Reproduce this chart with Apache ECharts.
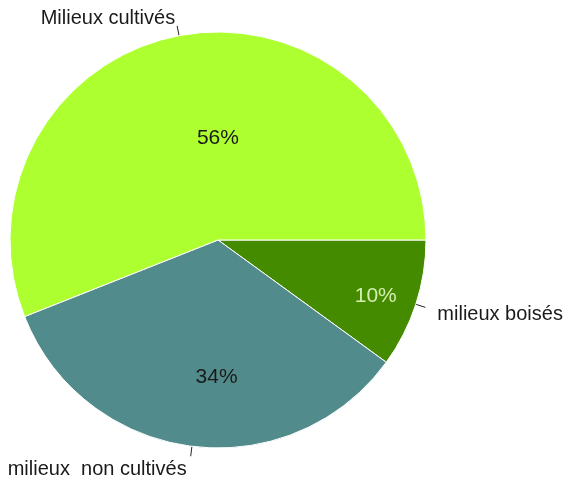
<!DOCTYPE html>
<html><head><meta charset="utf-8">
<script src="https://cdn.jsdelivr.net/npm/echarts@6/dist/echarts.min.js"></script>
<style>html,body{margin:0;padding:0;background:#fff}#c{width:567px;height:484px}</style>
</head><body><div id="c"></div>
<script>
const categories = ['milieux boisés', 'milieux  non cultivés', 'Milieux cultivés'];
const values = [10, 34, 56];
const percentLabels = ['10%', '34%', '56%'];
const colors = ['#458B00', '#528B8B', '#ADFF2F'];
const innerLabelColors = ['#d4efb0', '#1a1a1a', '#1a1a1a'];
const innerOffsets = [[56, 23], [12, 31], [20, 3]];
const outerShifts = [[10, 7], [-2, 13], [0, -7]];

const chart = echarts.init(document.getElementById('c'), null, {renderer: 'canvas'});
const font = 'Liberation Sans, Arial, sans-serif';
chart.setOption({
  animation: false,
  series: [
    {
      type: 'pie',
      center: [218, 240],
      radius: [0, 208],
      startAngle: 0,
      clockwise: true,
      silent: true,
      itemStyle: {borderColor: '#ffffff', borderWidth: 1},
      label: {show: true, position: 'outside', color: '#1a1a1a', fontFamily: font, fontSize: 20,
              distanceToLabelLine: 2, overflow: 'none', width: 300},
      labelLine: {show: true, length: 10, length2: 0, lineStyle: {color: '#222', width: 1}},
      labelLayout: function (p) {
        const s = outerShifts[p.dataIndex];
        return {dx: s[0], dy: s[1]};
      },
      data: categories.map((c, i) => ({name: c, value: values[i], itemStyle: {color: colors[i]}}))
    },
    {
      type: 'pie',
      center: [218, 240],
      radius: [0, 208],
      startAngle: 0,
      clockwise: true,
      silent: true,
      itemStyle: {color: 'rgba(0,0,0,0)'},
      label: {show: true, position: 'inside', fontFamily: font, fontSize: 21},
      labelLine: {show: false},
      data: categories.map((c, i) => ({name: c, value: values[i],
        label: {formatter: percentLabels[i], color: innerLabelColors[i], offset: innerOffsets[i]}}))
    }
  ]
});
</script></body></html>
